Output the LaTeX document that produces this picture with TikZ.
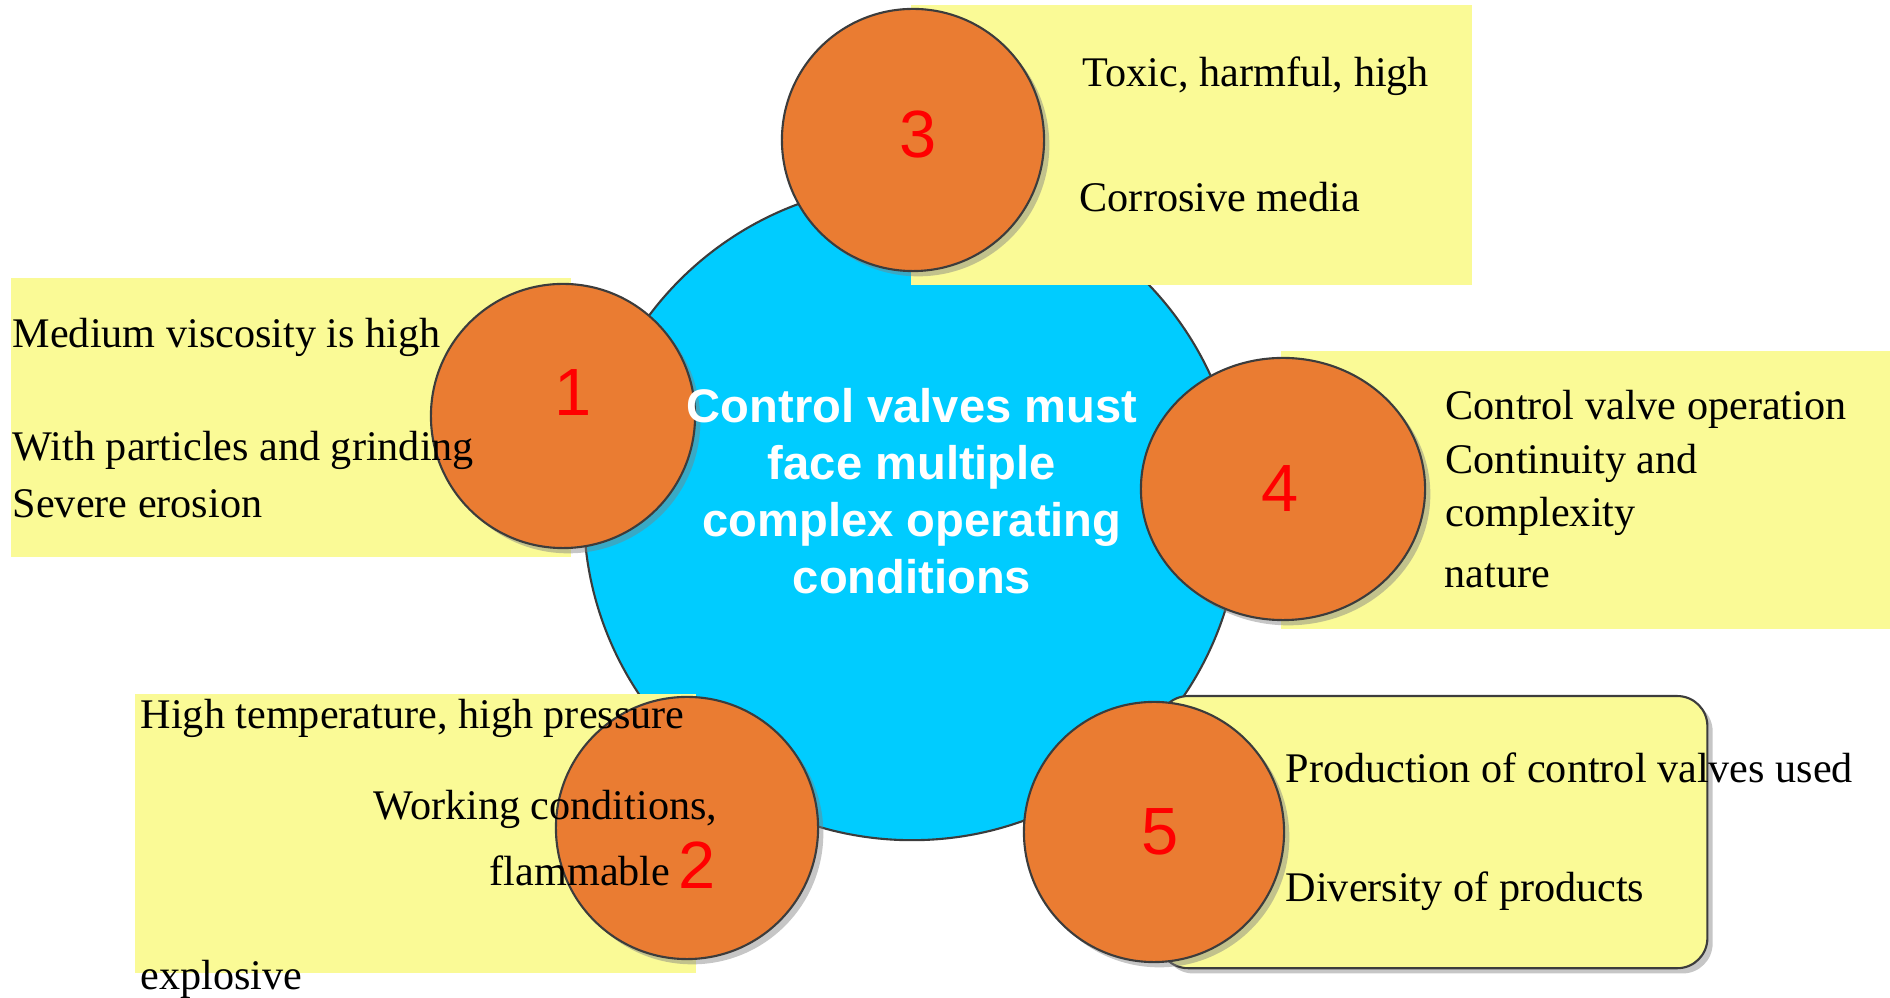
\documentclass[tikz,border=0pt]{standalone}
\usepackage{fontspec}
\setmainfont{Liberation Serif}
\setsansfont{Liberation Sans}
\usetikzlibrary{shapes.geometric,shadows}
\definecolor{hubBlue}{RGB}{0,204,255}
\definecolor{dotOrange}{RGB}{234,124,50}
\definecolor{noteYellow}{RGB}{250,250,150}
\definecolor{rimGray}{RGB}{60,60,60}
\begin{document}
\begin{tikzpicture}[x=0.01cm,y=-0.01cm,
        hub/.style={circle,fill=hubBlue,draw=rimGray,line width=0.6pt,minimum size=6.56cm,inner sep=0pt},
        note/.style={fill=noteYellow,anchor=north west,inner sep=0pt},
        dot/.style={ellipse,fill=dotOrange,draw=rimGray,line width=0.6pt,inner sep=0pt,
            drop shadow={shadow xshift=1.5pt,shadow yshift=-1.5pt,opacity=0.45}},
        num/.style={text=red,inner sep=0pt,font=\sffamily\fontsize{19}{19}\selectfont},
        txt/.style={anchor=west,inner sep=0pt,font=\fontsize{12}{14}\selectfont}]
        \useasboundingbox (0,0) rectangle (1890,998);
        \node[hub] (hub) at (912,512) {};
        \node[note,minimum width=5.6cm,minimum height=2.79cm] (n1) at (10,277) {};
        \node[note,minimum width=5.61cm,minimum height=2.8cm] (n3) at (910,4) {};
        \node[note,minimum width=6.1cm,minimum height=2.78cm] (n4) at (1280,350) {};
        \node[note,minimum width=5.61cm,minimum height=2.79cm] (n2) at (134,693) {};
        \node[note,draw=rimGray,line width=0.6pt,rounded corners=0.3cm,minimum width=5.49cm,minimum height=2.72cm,
            drop shadow={shadow xshift=1.5pt,shadow yshift=-1.5pt,opacity=0.45}] (n5) at (1157,695) {};
        \foreach \i/\cx/\cy/\w/\h in {1/563/416/2.64/2.64,3/913/140/2.62/2.62,4/1283/489/2.84/2.62,2/687/828/2.62/2.62,5/1154/832/2.6/2.6}
        {
        \node[dot,minimum width=\w cm,minimum height=\h cm] (d\i) at (\cx,\cy) {};
        }
        \foreach \i/\nx/\ny in {1/573/393,3/918/135,4/1280/489,2/697/865,5/1160/832}
        {
        \node[num] (k\i) at (\nx,\ny) {\i};
        }
        \node[text=white,align=center,inner sep=0pt,font=\sffamily\bfseries\fontsize{13.4}{16.2}\selectfont] (hubtext) at (912,491)
            {Control valves must\\face multiple\\complex operating\\conditions};
        \node[txt] (t11) at (12,337) {Medium viscosity is high};
        \node[txt] (t12) at (12,450) {With particles and grinding};
        \node[txt] (t13) at (12,504) {Severe erosion};
        \node[txt] (t31) at (1082,76) {Toxic, harmful, high};
        \node[txt] (t32) at (1079,197) {Corrosive media};
        \node[txt] (t41) at (1445,409) {Control valve operation};
        \node[txt] (t42) at (1445,463) {Continuity and};
        \node[txt] (t43) at (1445,516) {complexity};
        \node[txt] (t44) at (1444,576) {nature};
        \node[txt] (t21) at (140,718) {High temperature, high pressure};
        \node[txt,anchor=east] (t22) at (718,809) {Working conditions,};
        \node[txt,anchor=east] (t23) at (671,871) {flammable};
        \node[txt] (t24) at (140,979) {explosive};
        \node[txt] (t51) at (1285,768) {Production of control valves used};
        \node[txt] (t52) at (1285,891) {Diversity of products};
    \end{tikzpicture}
\end{document}
